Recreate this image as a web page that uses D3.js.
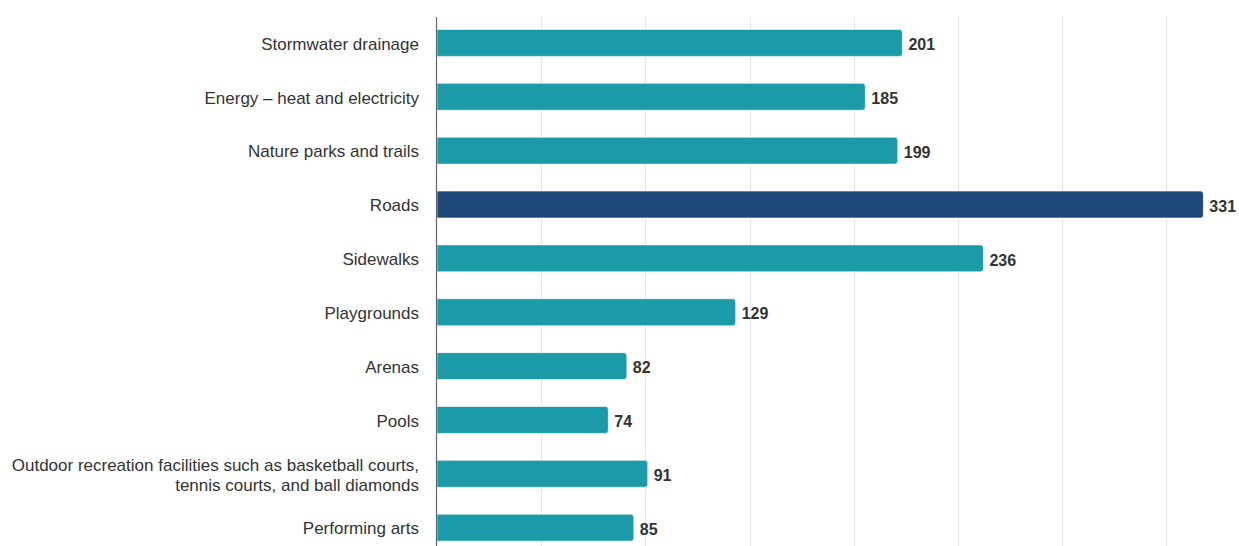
<!DOCTYPE html>
<html>
<head>
<meta charset="utf-8">
<script src="https://cdn.jsdelivr.net/npm/d3@7"></script>
<style>
  html, body { margin: 0; padding: 0; background: #fff; }
  svg { display: block; font-family: "Liberation Sans", Arial, Helvetica, sans-serif; }
</style>
</head>
<body>
<svg id="chart" width="1239" height="546"></svg>
<script>
// Infrastructure categories and their counts
const categories = [
  "Stormwater drainage",
  "Energy – heat and electricity",
  "Nature parks and trails",
  "Roads",
  "Sidewalks",
  "Playgrounds",
  "Arenas",
  "Pools",
  "Outdoor recreation facilities such as basketball courts, tennis courts, and ball diamonds",
  "Performing arts"
];
const values = [201, 185, 199, 331, 236, 129, 82, 74, 91, 85];
const highlighted = ["Roads"];
const gridTicks = [0, 45, 90, 135, 180, 225, 270, 315, 360];

// Label line breaks for long categories
const labelLines = {
  "Outdoor recreation facilities such as basketball courts, tennis courts, and ball diamonds":
    ["Outdoor recreation facilities such as basketball courts,", "tennis courts, and ball diamonds"]
};

const data = categories.map((c, i) => ({ category: c, value: values[i] }));

const svg = d3.select("#chart");
const plotLeft = 437, plotTop = 16, plotBottom = 554.6;

const x = d3.scaleLinear().domain([0, 360]).range([plotLeft, plotLeft + 360 * 2.3153]);
const y = d3.scaleBand().domain(categories).range([plotTop, plotBottom]).paddingInner(0.5).paddingOuter(0.25);

// Vertical gridlines
svg.append("g")
  .selectAll("line")
  .data(gridTicks.filter(t => t > 0))
  .join("line")
  .attr("x1", d => Math.round(x(d)) + 0.5)
  .attr("x2", d => Math.round(x(d)) + 0.5)
  .attr("y1", plotTop + 1)
  .attr("y2", 546)
  .attr("stroke", "#e6e6e6")
  .attr("stroke-width", 1);

// Bars with rounded right ends
const r = 3;
function barPath(d) {
  const x0 = x(0), x1 = x(d.value), y0 = y(d.category), h = y.bandwidth();
  return `M${x0},${y0}H${x1 - r}Q${x1},${y0} ${x1},${y0 + r}V${y0 + h - r}Q${x1},${y0 + h} ${x1 - r},${y0 + h}H${x0}Z`;
}
svg.append("g")
  .selectAll("path")
  .data(data)
  .join("path")
  .attr("d", barPath)
  .attr("fill", d => highlighted.includes(d.category) ? "#1d4877" : "#1b9aa8")
  .attr("stroke", "#ffffff")
  .attr("stroke-opacity", 0.6)
  .attr("stroke-width", 1);

// Value labels
svg.append("g")
  .selectAll("text")
  .data(data)
  .join("text")
  .attr("x", d => x(d.value) + 6)
  .attr("y", d => y(d.category) + y.bandwidth() / 2)
  .attr("dy", "0.45em")
  .attr("font-size", 16)
  .attr("font-weight", "bold")
  .attr("fill", "#333333")
  .text(d => d.value);

// Category axis line
svg.append("line")
  .attr("x1", plotLeft - 0.5).attr("x2", plotLeft - 0.5)
  .attr("y1", plotTop + 1).attr("y2", 546)
  .attr("stroke", "#666666")
  .attr("stroke-width", 1.2);

// Category labels
const labels = svg.append("g")
  .selectAll("text")
  .data(categories)
  .join("text")
  .attr("text-anchor", "end")
  .attr("font-size", 17)
  .attr("fill", "#333333")
  .attr("x", plotLeft - 18);

labels.each(function(c) {
  const lines = labelLines[c] || [c];
  const cy = y(c) + y.bandwidth() / 2;
  const lh = 20;
  const t = d3.select(this);
  lines.forEach((ln, i) => {
    t.append("tspan")
      .attr("x", plotLeft - 18)
      .attr("y", cy + (i - (lines.length - 1) / 2) * lh)
      .attr("dy", "0.4em")
      .text(ln);
  });
});
</script>
</body>
</html>
